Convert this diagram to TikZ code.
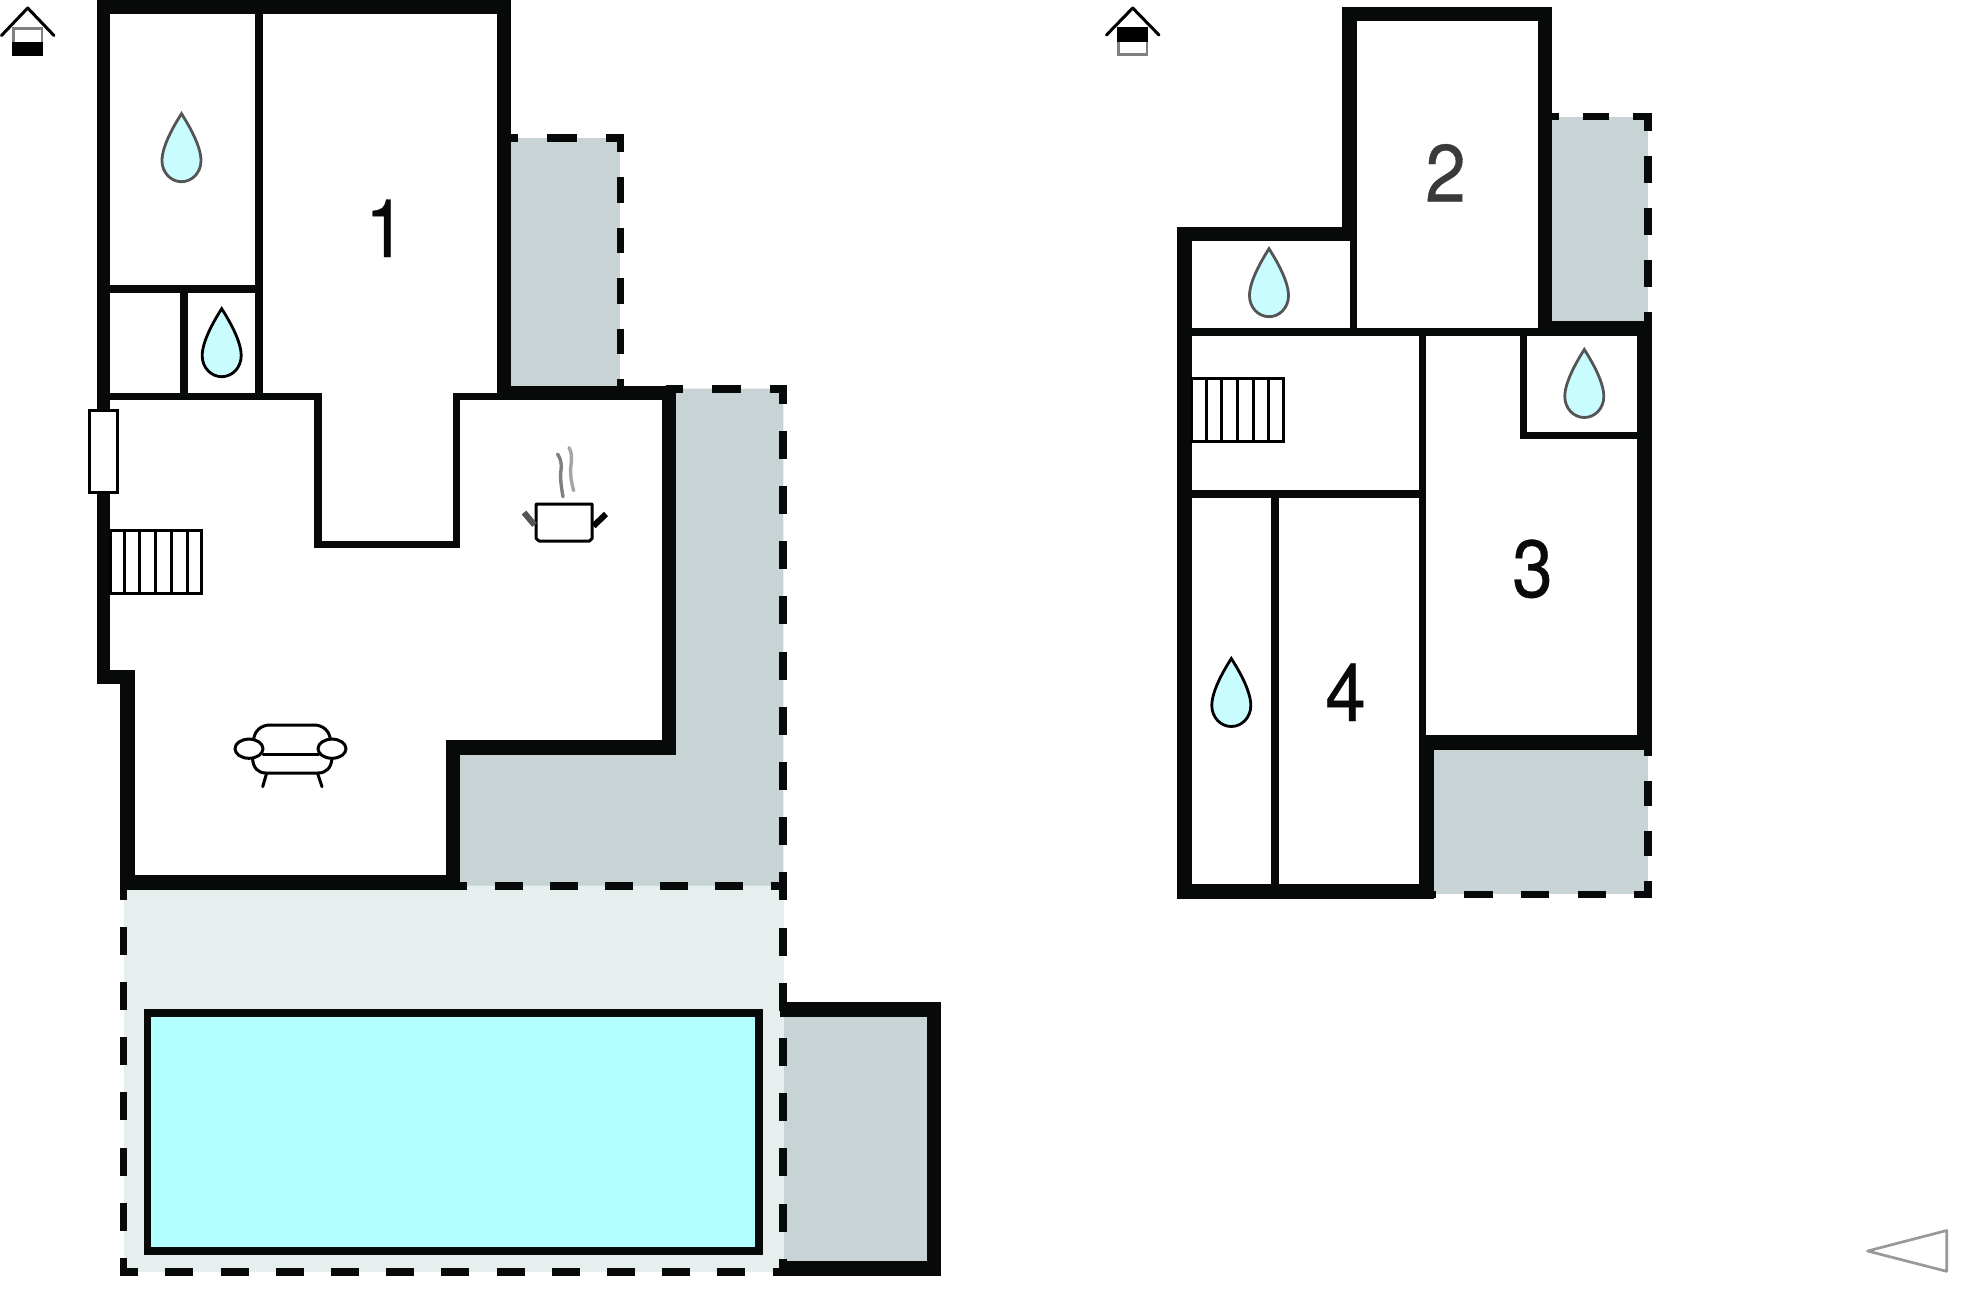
\documentclass[tikz,border=0pt]{standalone}
\usepackage{fontspec}
\setmainfont{Liberation Sans}
\newfontfamily\digitfont[FakeStretch=0.9,FakeBold=0.4]{TeX Gyre Heros}
\definecolor{wallc}{HTML}{070A09}
\definecolor{terr}{HTML}{C7D3D4}
\definecolor{paved}{HTML}{E6EFEE}
\definecolor{poolc}{HTML}{B2FFFF}
\definecolor{dropc}{HTML}{C9FCFF}
\definecolor{edgegrey}{HTML}{555555}
\newcommand{\wallrect}[4]{\fill[wallc] (#1,#2) rectangle (#3,#4);}
\newcommand{\dropat}[3]{%
  \begin{scope}[shift={(#1,#2)}]
    \draw[draw=#3,fill=dropc,line width=2.8pt,line join=miter]
      (0,1) .. controls (7,12) and (19.5,33) .. (19.5,48)
      .. controls (19.5,60) and (10.5,69) .. (0,69)
      .. controls (-10.5,69) and (-19.5,60) .. (-19.5,48)
      .. controls (-19.5,33) and (-7,12) .. (0,1) -- cycle;
  \end{scope}}
\tikzset{
  x=1pt,y=-1pt,
  dashwall/.style={draw=wallc,line width=#1},
  digit/.style={anchor=base,inner sep=0pt,font=\digitfont\fontsize{81}{81}\selectfont,text=wallc},
  thinline/.style={draw=black,line width=3pt},
  iconline/.style={draw=black,line width=3pt,line cap=round,line join=round},
  stairbox/.style={draw=black,fill=white,line width=3pt},
}
\begin{document}
\begin{tikzpicture}
\useasboundingbox (0,0) rectangle (1970,1304);
\fill[white] (0,0) rectangle (1970,1304);

% paved and terraces, left
\fill[paved] (123.6,885) rectangle (784,1272);
\fill[terr] (510.7,138) rectangle (620.3,386);
\fill[terr] (676,388.7) -- (783.3,388.7) -- (783.3,885.5) -- (459.7,885.5) -- (459.7,755) -- (676,755) -- cycle;
\fill[terr] (784,1016) rectangle (927,1261);
% pool
\draw[draw=wallc,fill=poolc,line width=7.3pt] (147.5,1013) rectangle (759,1251);

% left building walls
\wallrect{96.5}{0}{511}{14}
\wallrect{96.5}{0}{110.3}{684}
\wallrect{96.5}{670}{134.6}{684}
\wallrect{120.4}{670}{134.6}{890}
\wallrect{120.4}{875}{459.7}{890}
\wallrect{496.7}{0}{510.7}{400}
\wallrect{255}{14}{263}{400}
\wallrect{110}{285}{263}{293}
\wallrect{180}{285}{188}{400}
\wallrect{110}{393}{321.5}{400}
\wallrect{314.2}{393}{321.5}{548}
\wallrect{452.8}{393}{459.7}{548}
\wallrect{314.2}{541}{459.7}{548}
\wallrect{452.8}{393}{510}{400}
\wallrect{496.7}{385.7}{676.3}{400}
\wallrect{662}{385.7}{676.3}{755}
\wallrect{445.5}{740}{676.3}{755}
\wallrect{445.5}{740}{459.7}{890}
% annex
\wallrect{780}{1002}{941}{1016.7}
\wallrect{926.7}{1002}{941}{1276}
\wallrect{780}{1261}{941}{1276}

% left dashed edges
\draw[dashwall=8pt,dash pattern=on 30pt off 29pt,dash phase=22.7pt] (510.7,138) -- (624.3,138);
\draw[dashwall=7.6pt,dash pattern=on 25.7pt off 24.8pt,dash phase=7.5pt] (620.5,134) -- (620.5,386.7);
\draw[dashwall=7.7pt,dash pattern=on 29pt off 29pt,dash phase=12pt] (665.7,388.85) -- (786.7,388.85);
\draw[dashwall=7.7pt,dash pattern=on 28pt off 27.2pt,dash phase=9.5pt] (782.85,385) -- (782.85,1276);
\draw[dashwall=8.2pt,dash pattern=on 28pt off 27.2pt,dash phase=20.3pt] (459.7,885.85) -- (786.7,885.85);
\draw[dashwall=8pt,dash pattern=on 28pt off 27.2pt,dash phase=9.6pt] (119.7,1272) -- (787,1272);
\draw[dashwall=7.7pt,dash pattern=on 28pt off 27.2pt,dash phase=16.5pt] (123.55,888) -- (123.55,1276);

% window and stairs, left
\draw[stairbox] (89.5,410.2) rectangle (117.4,492.8);
\draw[stairbox] (110.3,530.3) rectangle (201,593.9);
\foreach \xs in {124.5,139.2,155.3,171.4,187}{\draw[thinline] (\xs,530.3) -- (\xs,593.9);}

% furniture: sofa
\draw[iconline] (253.5,741) .. controls (254,730) and (262,725) .. (270,725) -- (314,725) .. controls (322,725) and (330,730) .. (330.5,741);
\draw[iconline] (263,754.5) -- (319,754.5);
\draw[iconline] (252.5,758) .. controls (253,768) and (258,773) .. (266,773) -- (318,773) .. controls (326,773) and (331.5,768) .. (332,758);
\draw[iconline] (266.4,774) -- (262.7,786.7);
\draw[iconline] (317.8,774) -- (322,786.7);
\draw[iconline,fill=white] (249,748.7) ellipse [x radius=14,y radius=9.6];
\draw[iconline,fill=white] (332,748.7) ellipse [x radius=14,y radius=9.6];

% furniture: pot
\draw[draw=black,fill=white,line width=3pt,line join=round] (536.2,504) -- (592.1,504) -- (592.1,538.5) -- (589.5,541) -- (539,541) -- (536.2,538.5) -- cycle;
\draw[draw=edgegrey,line width=6pt] (524,512.5) -- (534.5,525);
\draw[draw=black,line width=6pt] (606,514) -- (593.5,526);
\draw[draw=gray,line width=3.4pt,line cap=round] (563,496.7) .. controls (561,485) and (560,478) .. (561,470) .. controls (562,462) and (560,458) .. (557.5,454);
\draw[draw=gray!70,line width=3.4pt,line cap=round] (573.6,490.7) .. controls (571,480) and (570,474) .. (571,465) .. controls (572,456) and (571.5,452) .. (569,447.7);

% drops
\dropat{181.5}{112.7}{edgegrey}
\dropat{221.7}{307.7}{black}
\dropat{1269}{247.7}{edgegrey}
\dropat{1584.3}{348.5}{edgegrey}
\dropat{1231.3}{657.5}{black}

% numbers
\node[digit] (n1) at (385.5,257) {1};
\node[digit,text=wallc!80!white] (n2) at (1445.5,201.5) {2};
\node[digit] (n3) at (1532.5,597) {3};
\node[digit] (n4) at (1345.5,721) {4};

% right building terraces
\fill[terr] (1551.7,116.7) rectangle (1647.7,321);
\fill[terr] (1433.7,749) rectangle (1648,894);

% right building walls
\wallrect{1342}{7}{1551.7}{21.3}
\wallrect{1342}{7}{1356.7}{240.7}
\wallrect{1537.7}{7}{1551.7}{336}
\wallrect{1177.3}{226.7}{1356.7}{240.7}
\wallrect{1177.3}{226.7}{1191.7}{898.7}
\wallrect{1349.7}{226.7}{1356.7}{336}
\wallrect{1191}{328.3}{1540}{336}
\wallrect{1537.7}{320.7}{1651.7}{336}
\wallrect{1637.3}{320.7}{1651.7}{750}
\wallrect{1418.6}{336}{1425.7}{898.7}
\wallrect{1520.3}{336}{1527.3}{438.7}
\wallrect{1520.3}{431.7}{1640}{438.7}
\wallrect{1191}{490}{1425}{497.7}
\wallrect{1271.3}{490}{1279}{890}
\wallrect{1418.7}{735.3}{1651.7}{749.7}
\wallrect{1418.7}{735.3}{1433.7}{898.7}
\wallrect{1177.3}{884.3}{1433.7}{898.7}

% right dashed edges
\draw[dashwall=7.3pt,dash pattern=on 25.7pt off 24.3pt,dash phase=18.4pt] (1551.7,116.35) -- (1651.7,116.35);
\draw[dashwall=7.7pt,dash pattern=on 26.7pt off 25.3pt,dash phase=8.7pt] (1647.85,112.7) -- (1647.85,320.7);
\draw[dashwall=7.7pt,dash pattern=on 25.3pt off 24.7pt,dash phase=18.7pt] (1647.85,749.7) -- (1647.85,898.3);
\draw[dashwall=7.6pt,dash pattern=on 28.4pt off 28.2pt,dash phase=26pt] (1433.7,894.5) -- (1651.7,894.5);

% stairs, right
\draw[stairbox] (1191.7,378.9) rectangle (1283,441.5);
\foreach \xs in {1206.5,1221.3,1237.2,1253.9,1268.7}{\draw[thinline] (\xs,378.9) -- (\xs,441.5);}

% house icons
\draw[draw=gray,line width=2.8pt] (13.7,28.1) rectangle (41.9,54.6);
\fill[black] (12.3,41.7) rectangle (43.3,56);
\draw[iconline] (1.5,35.5) -- (27.7,8) -- (54,35.5);
\draw[draw=gray,line width=2.8pt] (1118.7,28.1) rectangle (1146.9,54.6);
\fill[black] (1117.3,26.5) rectangle (1148.3,41.7);
\draw[iconline] (1106.5,35) -- (1132.7,8) -- (1159,35);

% orientation mark
\draw[draw=gray!120!black,line width=2.7pt,line join=round] (1867.5,1251) -- (1946.7,1230.5) -- (1946.7,1271.3) -- cycle;
\end{tikzpicture}
\end{document}
